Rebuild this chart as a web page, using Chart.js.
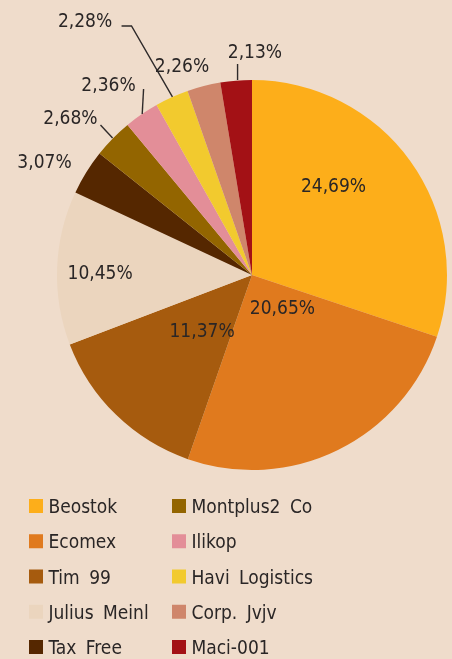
<!DOCTYPE html>
<html>
<head>
<meta charset="utf-8">
<script src="https://cdn.jsdelivr.net/npm/chart.js@4"></script>
<style>
  html, body { margin:0; padding:0; background:#efdccb; }
  .wrap { position:relative; width:452px; height:659px; }
</style>
</head>
<body>
<div class="wrap"><canvas id="pie" width="452" height="659"></canvas></div>
<script>
const companies = ['Beostok','Ecomex','Tim 99','Julius Meinl','Tax Free','Montplus2 Co','Ilikop','Havi Logistics','Corp. Jvjv','Maci-001'];
const shares = [24.69, 20.65, 11.37, 10.45, 3.07, 2.68, 2.36, 2.28, 2.26, 2.13];
const colors = ['#fdae1a','#e07a1e','#a65b0e','#ebd5be','#552700','#936500','#e38e98','#f2ca2e','#cf866b','#a31115'];

// label spots, in pie radius units from the centre; optional leader line
const placement = [
  { x: 0.418, y:-0.462 },
  { x: 0.156, y: 0.164 },
  { x:-0.256, y: 0.282 },
  { x:-0.779, y:-0.015 },
  { x:-1.064, y:-0.587 },
  { x:-0.931, y:-0.808, line:[[-0.715,-0.703],[-0.777,-0.769]] },
  { x:-0.736, y:-0.982, line:[[-0.563,-0.826],[-0.556,-0.954]] },
  { x:-0.856, y:-1.310, line:[[-0.408,-0.913],[-0.618,-1.277],[-0.669,-1.277]] },
  { x:-0.359, y:-1.079 },
  { x: 0.015, y:-1.151, line:[[-0.074,-1.0],[-0.074,-1.082]] }
];

const FONT = '19px "DejaVu Sans Condensed", "DejaVu Sans", sans-serif';
const INK = '#2a2626';

function pct(v){ return v.toFixed(2).replace('.', ',') + '%'; }

const labelsPlugin = {
  id: 'pieLabels',
  afterDatasetsDraw(chart){
    const ctx = chart.ctx;
    const arc = chart.getDatasetMeta(0).data[0];
    if(!arc) return;
    const cx = arc.x, cy = arc.y, R = arc.outerRadius;
    ctx.save();
    ctx.strokeStyle = '#2e2a2a';
    ctx.lineWidth = 1.4;
    placement.forEach(p => {
      if(!p.line) return;
      ctx.beginPath();
      p.line.forEach((pt, k) => {
        const px = cx + pt[0]*R, py = cy + pt[1]*R;
        if(k === 0) ctx.moveTo(px, py); else ctx.lineTo(px, py);
      });
      ctx.stroke();
    });
    ctx.font = FONT;
    ctx.fillStyle = INK;
    ctx.textAlign = 'center';
    ctx.textBaseline = 'alphabetic';
    shares.forEach((v, i) => {
      const p = placement[i];
      ctx.fillText(pct(v), cx + p.x*R, cy + p.y*R + 7);
    });
    ctx.restore();
  },
  afterDraw(chart){
    // two-column legend, filled column by column
    const ctx = chart.ctx;
    ctx.save();
    ctx.font = FONT;
    ctx.textAlign = 'left';
    ctx.textBaseline = 'alphabetic';
    if('wordSpacing' in ctx) ctx.wordSpacing = '4px';
    companies.forEach((name, i) => {
      const col = Math.floor(i / 5), row = i % 5;
      const x = 29 + col*143;
      const y = 499 + row*35.25;
      ctx.fillStyle = colors[i];
      ctx.fillRect(x, y, 14, 14);
      ctx.fillStyle = INK;
      ctx.fillText(name, x + 19.5, y + 14);
    });
    ctx.restore();
  }
};

new Chart(document.getElementById('pie'), {
  type: 'pie',
  data: {
    labels: companies,
    datasets: [{ data: shares, backgroundColor: colors, borderWidth: 0 }]
  },
  options: {
    responsive: false,
    animation: false,
    layout: { padding: { left: 57, right: 5, top: 80, bottom: 189 } },
    plugins: { legend: { display: false }, tooltip: { enabled: false } }
  },
  plugins: [labelsPlugin]
});
</script>
</body>
</html>
